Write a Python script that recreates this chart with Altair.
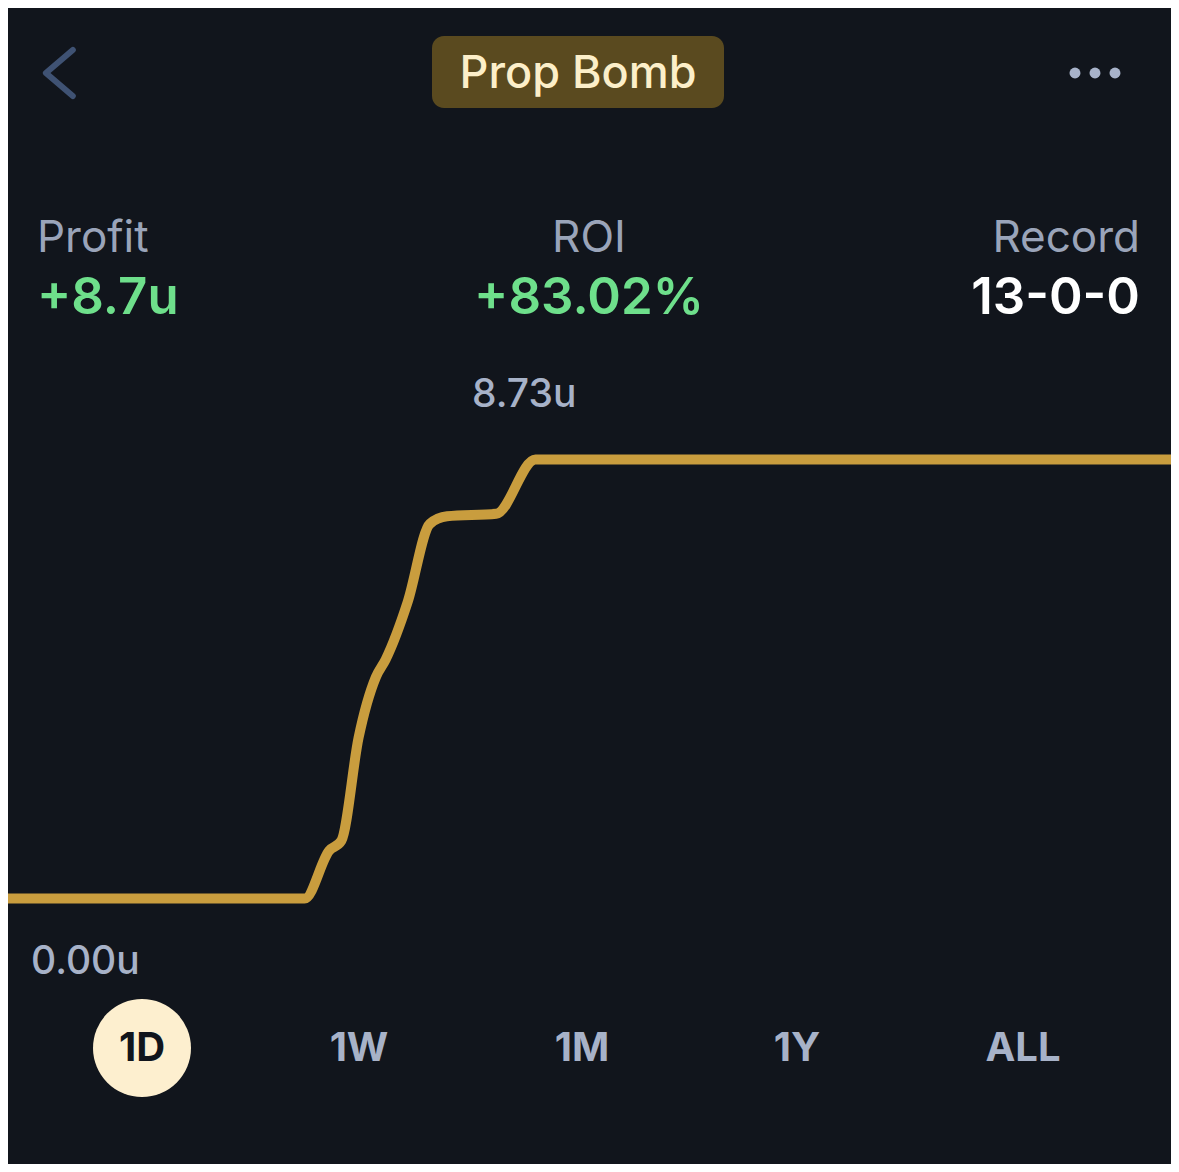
import altair as alt
import pandas as pd

# ---- data ----
title_text = ["Prop Bomb"]
stat_labels = ["Profit", "ROI", "Record"]
stat_values = ["+8.7u", "+83.02%", "13-0-0"]
tab_labels = ["1D", "1W", "1M", "1Y", "ALL"]
axis_labels = ["8.73u", "0.00u"]
hours = [0, 6.2, 6.7, 6.95, 7.3, 7.65, 7.85, 8.3, 8.75, 9.1, 10.1, 10.9, 24]
profit = [0, 0, 0.95, 1.15, 3.2, 4.4, 4.75, 5.9, 7.45, 7.6, 7.65, 8.73, 8.73]

BG = "#11151C"
GOLD = "#C99D3E"
LABEL = "#9AA4B9"
TAB = "#A7B2C8"
GREEN = "#6EDF8B"
FONT = "Inter"
W, H = 1163, 1156
OFF = 8  # page margin


def one(text):
    return pd.DataFrame({"t": [text]})


layers = []

# line chart
line_df = pd.DataFrame({"h": hours, "p": profit})
line = alt.Chart(line_df).mark_line(
    color=GOLD, strokeWidth=10, interpolate="monotone", strokeCap="round", strokeJoin="round", clip=False
).encode(
    x=alt.X("h:Q", scale=alt.Scale(domain=[0, 24], range=[0 - OFF, 1179 - OFF]), axis=None),
    y=alt.Y("p:Q", scale=alt.Scale(domain=[0, 8.73], range=[898.5 - OFF, 459.5 - OFF]), axis=None),
)
layers.append(line)

# title pill
layers.append(
    alt.Chart(one("pill")).mark_rect(color="#5A4A1F", cornerRadius=12).encode(
        x=alt.value(432 - OFF), x2=alt.value(724 - OFF), y=alt.value(36 - OFF), y2=alt.value(108 - OFF)
    )
)
layers.append(
    alt.Chart(one(title_text[0])).mark_text(
        font=FONT, fontSize=45, fontWeight=500, color="#FCEFC9", align="center", baseline="middle"
    ).encode(text="t:N", x=alt.value(578 - OFF), y=alt.value(74 - OFF))
)

# back chevron
layers.append(
    alt.Chart(one("back")).mark_point(
        shape="M0.6,-1 L-0.57,0 L0.6,1", filled=False, stroke="#3F5273", strokeWidth=6,
        size=2116, strokeCap="round", strokeJoin="round", opacity=1
    ).encode(x=alt.value(59 - OFF), y=alt.value(73 - OFF))
)

# more dots
for dx in (1075, 1095, 1115):
    layers.append(
        alt.Chart(one("dot")).mark_circle(color="#A8B3CA", opacity=1, size=120).encode(
            x=alt.value(dx - OFF), y=alt.value(73 - OFF)
        )
    )

# stats
stat_x = [37, 589, 1140]
stat_align = ["left", "center", "right"]
stat_colors = [GREEN, GREEN, "#FFFFFF"]
for lab, val, sx, al, col in zip(stat_labels, stat_values, stat_x, stat_align, stat_colors):
    layers.append(
        alt.Chart(one(lab)).mark_text(
            font=FONT, fontSize=44, fontWeight=400, color=LABEL, align=al, baseline="alphabetic"
        ).encode(text="t:N", x=alt.value(sx - OFF), y=alt.value(252 - OFF))
    )
    layers.append(
        alt.Chart(one(val)).mark_text(
            font=FONT, fontSize=51, fontWeight=600, color=col, align=al, baseline="alphabetic"
        ).encode(text="t:N", x=alt.value(sx - OFF), y=alt.value(314 - OFF))
    )

# axis labels
layers.append(
    alt.Chart(one(axis_labels[0])).mark_text(
        font=FONT, fontSize=39, fontWeight=500, color=TAB, align="left", baseline="alphabetic"
    ).encode(text="t:N", x=alt.value(472 - OFF), y=alt.value(407 - OFF))
)
layers.append(
    alt.Chart(one(axis_labels[1])).mark_text(
        font=FONT, fontSize=39, fontWeight=500, color=TAB, align="left", baseline="alphabetic"
    ).encode(text="t:N", x=alt.value(31 - OFF), y=alt.value(974 - OFF))
)

# tabs
tab_x = [142, 359, 582, 797, 1023]
layers.append(
    alt.Chart(one("sel")).mark_circle(color="#FDEFCF", opacity=1, size=9604).encode(
        x=alt.value(tab_x[0] - OFF), y=alt.value(1048 - OFF)
    )
)
for i, (lab, tx) in enumerate(zip(tab_labels, tab_x)):
    layers.append(
        alt.Chart(one(lab)).mark_text(
            font=FONT, fontSize=40, fontWeight=700, color=BG if i == 0 else TAB,
            align="center", baseline="middle"
        ).encode(text="t:N", x=alt.value(tx - OFF), y=alt.value(1049 - OFF))
    )

chart = alt.layer(*layers).properties(
    width=W, height=H, autosize=alt.AutoSizeParams(type="none"), padding=0, background=BG
).configure_view(stroke=None)

chart.save("out.html", embed_options={"renderer": "svg", "actions": False})
